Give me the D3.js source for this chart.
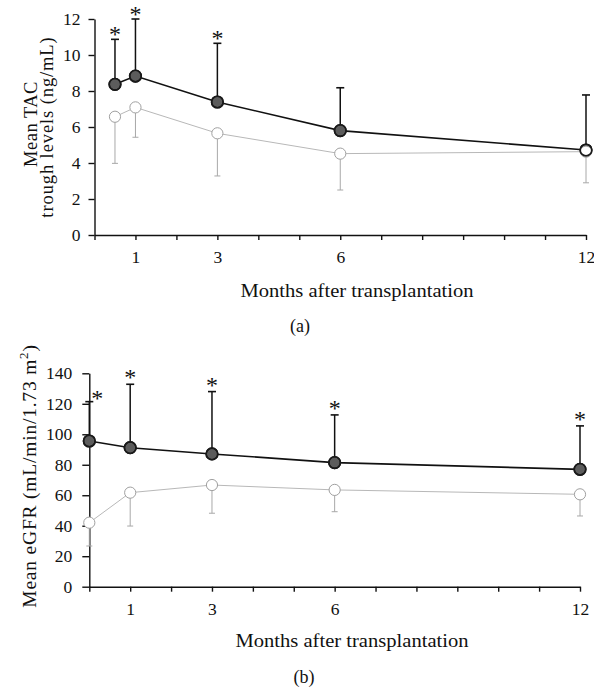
<!DOCTYPE html>
<html><head><meta charset="utf-8">
<script src="https://cdn.jsdelivr.net/npm/d3@7"></script>
<style>body{margin:0;background:#fff}svg{display:block}text{font-family:"Liberation Serif","Times New Roman",serif;fill:#111}</style>
</head><body><svg id="c" width="594" height="690"></svg>
<script>
// Panel (a): Mean TAC trough levels
const monthsA = [0.5, 1, 3, 6, 12];
const tacDark = [8.37, 8.83, 7.39, 5.80, 4.72];
const tacDarkSD = [10.87, 12.0, 10.65, 8.18, 7.78];   // upper error bar ends
const tacLight = [6.57, 7.09, 5.65, 4.52, 4.63];
const tacLightSD = [3.98, 5.43, 3.28, 2.50, 2.90];    // lower error bar ends
const tacStars = [true, true, true, false, false];
const yTicksA = [0, 2, 4, 6, 8, 10, 12];

// Panel (b): Mean eGFR
const monthsB = [0, 1, 3, 6, 12];
const gfrDark = [95.6, 91.2, 87.1, 81.4, 77.0];
const gfrDarkSD = [121.4, 132.8, 128.0, 112.7, 105.5];
const gfrLight = [42.0, 61.7, 66.7, 63.5, 60.6];
const gfrLightSD = [26.7, 39.8, 48.2, 49.2, 46.4];
const gfrStars = [true, true, true, true, true];
const yTicksB = [0, 20, 40, 60, 80, 100, 120, 140];

const xTickMonths = d3.range(0, 13);
const xTickLabels = [1, 3, 6, 12];

const svg = d3.select("#c");

function panel(cfg) {
  const g = svg.append("g");
  const x = d3.scaleLinear().domain([0, 12]).range(cfg.xr);
  const y = d3.scaleLinear().domain([0, cfg.ymax]).range(cfg.yr);

  // y axis
  const ya = g.append("g").attr("transform", `translate(${cfg.xr[0]},0)`)
    .call(d3.axisLeft(y).tickValues(cfg.yticks).tickSize(cfg.tick).tickSizeOuter(0).tickPadding(cfg.pad));
  ya.selectAll("path,line").attr("stroke", "#111").attr("stroke-width", 1.4);
  ya.selectAll("text").style("font-size", "17.5px").style("font-family", '"Liberation Serif",serif').attr("fill", "#111");

  // x axis
  const xa = g.append("g").attr("transform", `translate(0,${cfg.yr[0]})`)
    .call(d3.axisBottom(x).tickValues(xTickMonths).tickSize(5).tickSizeOuter(0).tickPadding(11)
      .tickFormat(d => xTickLabels.includes(d) ? d : ""));
  xa.selectAll("path,line").attr("stroke", "#111").attr("stroke-width", 1.4);
  xa.selectAll("text").style("font-size", "17.5px").style("font-family", '"Liberation Serif",serif').attr("fill", "#111");

  const line = d3.line().x((d, i) => x(cfg.months[i])).y(d => y(d));

  // light series line & error bars
  g.append("path").datum(cfg.light).attr("d", line).attr("fill", "none").attr("stroke", "#b8b8b8").attr("stroke-width", 1);
  cfg.light.forEach((v, i) => {
    const cx = x(cfg.months[i]);
    g.append("line").attr("x1", cx).attr("x2", cx).attr("y1", y(v)).attr("y2", y(cfg.lightSD[i])).attr("stroke", "#a8a8a8").attr("stroke-width", 1);
    g.append("line").attr("x1", cx - 3).attr("x2", cx + 3).attr("y1", y(cfg.lightSD[i])).attr("y2", y(cfg.lightSD[i])).attr("stroke", "#a8a8a8").attr("stroke-width", 1);
  });

  // dark series line & error bars
  g.append("path").datum(cfg.dark).attr("d", line).attr("fill", "none").attr("stroke", "#111").attr("stroke-width", 1.6);
  cfg.dark.forEach((v, i) => {
    const cx = x(cfg.months[i]);
    g.append("line").attr("x1", cx).attr("x2", cx).attr("y1", y(v)).attr("y2", y(cfg.darkSD[i])).attr("stroke", "#111").attr("stroke-width", 1.5);
    g.append("line").attr("x1", cx - 4).attr("x2", cx + 4).attr("y1", y(cfg.darkSD[i])).attr("y2", y(cfg.darkSD[i])).attr("stroke", "#111").attr("stroke-width", 1.6);
    if (cfg.stars[i]) {
      const onAxis = cfg.months[i] === 0;
      const sy = y(cfg.darkSD[i]) - (onAxis ? 7 : cfg.starGap);
      g.append("text").attr("x", cx + (onAxis ? 8 : 0)).attr("y", sy + 11)
        .attr("text-anchor", "middle").style("font-size", "24px").text("*");
    }
  });

  // markers
  cfg.dark.forEach((v, i) => {
    g.append("circle").attr("cx", x(cfg.months[i])).attr("cy", y(v)).attr("r", 5.8).attr("fill", "#5c5c5c").attr("stroke", "#1a1a1a").attr("stroke-width", 1.6);
  });
  cfg.light.forEach((v, i) => {
    g.append("circle").attr("cx", x(cfg.months[i])).attr("cy", y(v)).attr("r", 5.6).attr("fill", "#fff").attr("stroke", "#a0a0a0").attr("stroke-width", 1);
  });
  cfg.dark.forEach((v, i) => {
    g.append("circle").attr("cx", x(cfg.months[i])).attr("cy", y(v)).attr("r", 5.8).attr("fill", "none").attr("stroke", "#1a1a1a").attr("stroke-width", 1.6);
  });

  // titles
  g.append("text").attr("x", cfg.titleX).attr("y", cfg.titleY).attr("text-anchor", "middle")
    .attr("textLength", 233).attr("lengthAdjust", "spacingAndGlyphs").style("font-size", "18px").text("Months after transplantation");
  g.append("text").attr("x", cfg.capX).attr("y", cfg.capY).attr("text-anchor", "middle").style("font-size", "18px").text(cfg.cap);
  return g;
}

const ga = panel({
  months: monthsA, dark: tacDark, darkSD: tacDarkSD, light: tacLight, lightSD: tacLightSD, stars: tacStars,
  xr: [94.5, 586], yr: [235, 19], ymax: 12, yticks: yTicksA, tick: 6, pad: 8, starGap: 8,
  titleX: 357, titleY: 297, capX: 300, capY: 332, cap: "(a)"
});
ga.append("text").attr("transform", "translate(37,124) rotate(-90)").attr("text-anchor", "middle")
  .style("font-size", "18.5px").style("letter-spacing", "0.5px").text("Mean TAC");
ga.append("text").attr("transform", "translate(53,127) rotate(-90)").attr("text-anchor", "middle")
  .style("font-size", "18.5px").style("letter-spacing", "0.9px").text("trough levels (ng/mL)");

const gb = panel({
  months: monthsB, dark: gfrDark, darkSD: gfrDarkSD, light: gfrLight, lightSD: gfrLightSD, stars: gfrStars,
  xr: [89.3, 580], yr: [586.7, 373.3], ymax: 140, yticks: yTicksB, tick: 7, pad: 10, starGap: 10,
  titleX: 352, titleY: 647, capX: 304, capY: 683, cap: "(b)"
});
const yl = gb.append("text").attr("transform", "translate(36,476) rotate(-90)").attr("text-anchor", "middle")
  .style("font-size", "19.5px").style("letter-spacing", "0.8px");
yl.append("tspan").text("Mean eGFR (mL/min/1.73 m");
yl.append("tspan").attr("dy", -8).style("font-size", "13px").text("2");
yl.append("tspan").attr("dy", 8).text(")");
</script></body></html>
